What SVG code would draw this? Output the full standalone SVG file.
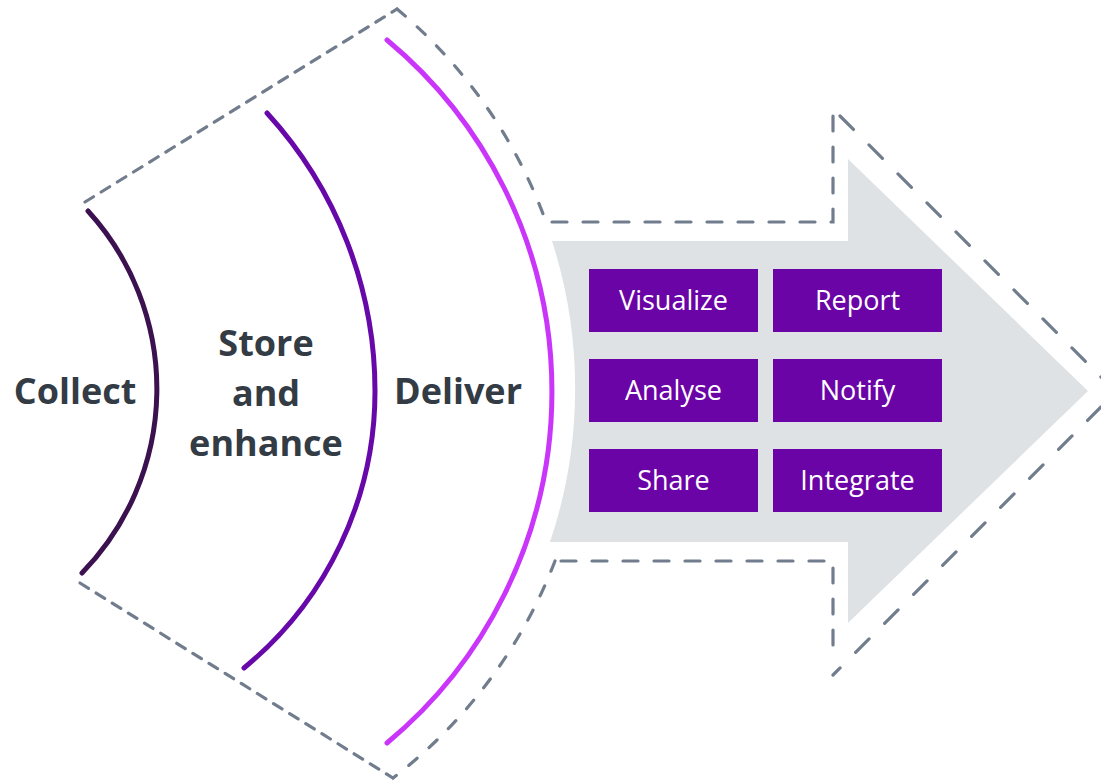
<svg xmlns="http://www.w3.org/2000/svg" width="1101" height="782" viewBox="0 0 1101 782">
<style>
.dl{fill:none;stroke:#717d8d;stroke-width:3.2;stroke-linecap:round;stroke-dasharray:10 9}
.da{fill:none;stroke:#717d8d;stroke-width:3.2;stroke-linecap:round;stroke-dasharray:11 16}
.dh{fill:none;stroke:#717d8d;stroke-width:3.2;stroke-linecap:round;stroke-dasharray:15 16}
.dd{fill:none;stroke:#717d8d;stroke-width:3.2;stroke-linecap:round;stroke-dasharray:19 22}
.arc{fill:none;stroke-width:5;stroke-linecap:round}
.lbl{font-family:"Open Sans","Liberation Sans",sans-serif;font-weight:700;font-size:36px;fill:#333b44;text-anchor:middle}
.box rect{fill:#6a04a6}
.box text{font-family:"Open Sans","Liberation Sans",sans-serif;font-size:27px;fill:#ffffff;text-anchor:middle}
</style>
<g id="outline">
<path class="dl" d="M85,202 L397,9"/>
<path class="dl" d="M80,583 L393,778"/>
<path class="da" d="M397,9 A498,498 0 0 1 546,222"/>
<path class="da" d="M555,561 A498,498 0 0 1 393,778"/>
<path class="dh" d="M552,222 L833,222 L833,115"/>
<path class="dd" d="M840,116 L1101,377"/>
<path class="dd" d="M1101,407 L833,675"/>
<path class="dh" d="M833,645 L833,561 L555,561"/>
</g>
<g id="arrow">
<path fill="#dfe2e5" d="M552,241 L848,241 L848,159 L1088,391 L848,623 L848,542 L550,542 A482,482 0 0 0 552,241 Z"/>
</g>
<g id="arcs">
<path class="arc" stroke="#3c1150" d="M88,211 A264,264 0 0 1 82,573"/>
<path class="arc" stroke="#6708a8" d="M267,113 A412,412 0 0 1 375,391 A358,358 0 0 1 244,668"/>
<path class="arc" stroke="#c936fa" d="M387,40 A457,457 0 0 1 387,743"/>
</g>
<g id="collect"><text class="lbl" x="75" y="404">Collect</text></g>
<g id="store"><text class="lbl" x="266" y="356">Store</text><text class="lbl" x="266" y="406">and</text><text class="lbl" x="266" y="456">enhance</text></g>
<g id="deliver"><text class="lbl" x="458" y="404">Deliver</text></g>
<g id="visualize" class="box"><rect x="589" y="269" width="169" height="63"/><text x="673.5" y="310">Visualize</text></g>
<g id="report" class="box"><rect x="773" y="269" width="169" height="63"/><text x="857.5" y="310">Report</text></g>
<g id="analyse" class="box"><rect x="589" y="359" width="169" height="63"/><text x="673.5" y="400">Analyse</text></g>
<g id="notify" class="box"><rect x="773" y="359" width="169" height="63"/><text x="857.5" y="400">Notify</text></g>
<g id="share" class="box"><rect x="589" y="449" width="169" height="63"/><text x="673.5" y="490">Share</text></g>
<g id="integrate" class="box"><rect x="773" y="449" width="169" height="63"/><text x="857.5" y="490">Integrate</text></g>
</svg>
